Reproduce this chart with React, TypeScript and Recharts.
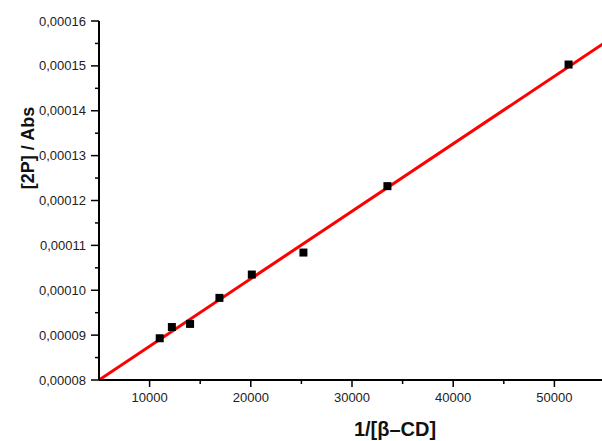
import { ComposedChart, Scatter, Line, XAxis, YAxis, Label } from "recharts";

// measured points: 1/[β-CD] vs [2P]/Abs
const invCD = [11000, 12200, 14000, 16900, 20100, 25200, 33500, 51400];
const ratio = [
  0.0000893, 0.0000918, 0.0000925, 0.0000983, 0.0001035, 0.0001084, 0.0001232,
  0.0001503,
];

// linear fit end points
const fitX = [5000, 55000];
const fitY = [0.00008, 0.0001552];

const xTicks = [10000, 15000, 20000, 25000, 30000, 35000, 40000, 45000, 50000, 55000];
const yTicks = [
  0.00008, 0.000085, 0.00009, 0.000095, 0.0001, 0.000105, 0.00011, 0.000115,
  0.00012, 0.000125, 0.00013, 0.000135, 0.00014, 0.000145, 0.00015, 0.000155,
  0.00016,
];

const points = invCD.map((x, i) => ({ x, y: ratio[i] }));
const fit = fitX.map((x, i) => ({ x, y: fitY[i] }));

const FONT = '"Liberation Sans", Arial, sans-serif';

const YTick = (props: any) => {
  const { x, y, payload } = props;
  const major = Math.round(payload.value * 1e6) % 10 === 0;
  return (
    <g>
      <line x1={x - (major ? 8 : 4)} x2={x} y1={y} y2={y} stroke="#000" strokeWidth={1.5} />
      {major && (
        <text
          x={x - 13}
          y={y}
          dy="0.35em"
          textAnchor="end"
          fontSize={13}
          fontFamily={FONT}
          fill="#222"
        >
          {payload.value.toFixed(5).replace(".", ",")}
        </text>
      )}
    </g>
  );
};

const XTick = (props: any) => {
  const { x, y, payload } = props;
  const major = payload.value % 10000 === 0;
  return (
    <g>
      <line x1={x} x2={x} y1={y} y2={y + (major ? 7 : 4)} stroke="#000" strokeWidth={1.5} />
      {major && (
        <text
          x={x}
          y={y + 22}
          textAnchor="middle"
          fontSize={13}
          fontFamily={FONT}
          fill="#222"
        >
          {payload.value}
        </text>
      )}
    </g>
  );
};

export default function App() {
  return (
    <div
      style={{
        position: "absolute",
        left: 0,
        top: 0,
        width: 602,
        height: 441,
        overflow: "hidden",
        background: "#fff",
      }}
    >
      <ComposedChart
        width={610}
        height={441}
        margin={{ top: 21, right: 5, bottom: 0, left: 0 }}
      >
        <XAxis
          type="number"
          dataKey="x"
          domain={[5000, 55000]}
          ticks={xTicks}
          interval={0}
          allowDataOverflow
          height={61}
          tickLine={false}
          tickSize={0}
          tickMargin={0}
          tick={<XTick />}
          axisLine={{ stroke: "#000", strokeWidth: 2 }}
        >
          <Label
            content={() => (
              <text
                x={395}
                y={436}
                textAnchor="middle"
                fontSize={20}
                fontWeight="bold"
                fontFamily={FONT}
                fill="#111"
              >
                1/[β–CD]
              </text>
            )}
          />
        </XAxis>
        <YAxis
          type="number"
          dataKey="y"
          domain={[0.00008, 0.00016]}
          ticks={yTicks}
          interval={0}
          allowDataOverflow
          width={99}
          tickLine={false}
          tickSize={0}
          tickMargin={0}
          tick={<YTick />}
          axisLine={{ stroke: "#000", strokeWidth: 2 }}
        >
          <Label
            content={() => (
              <text
                x={28}
                y={148}
                transform="rotate(-90 28 148)"
                textAnchor="middle"
                dy="0.35em"
                fontSize={18}
                fontWeight="bold"
                fontFamily={FONT}
                fill="#111"
              >
                [2P] / Abs
              </text>
            )}
          />
        </YAxis>
        <Scatter
          data={points}
          dataKey="y"
          isAnimationActive={false}
          shape={(p: any) => (
            <rect x={p.cx - 4} y={p.cy - 4} width={8} height={8} fill="#000" />
          )}
        />
        <Line
          data={fit}
          dataKey="y"
          type="linear"
          stroke="#ff0000"
          strokeWidth={3}
          dot={false}
          activeDot={false}
          isAnimationActive={false}
        />
      </ComposedChart>
    </div>
  );
}
